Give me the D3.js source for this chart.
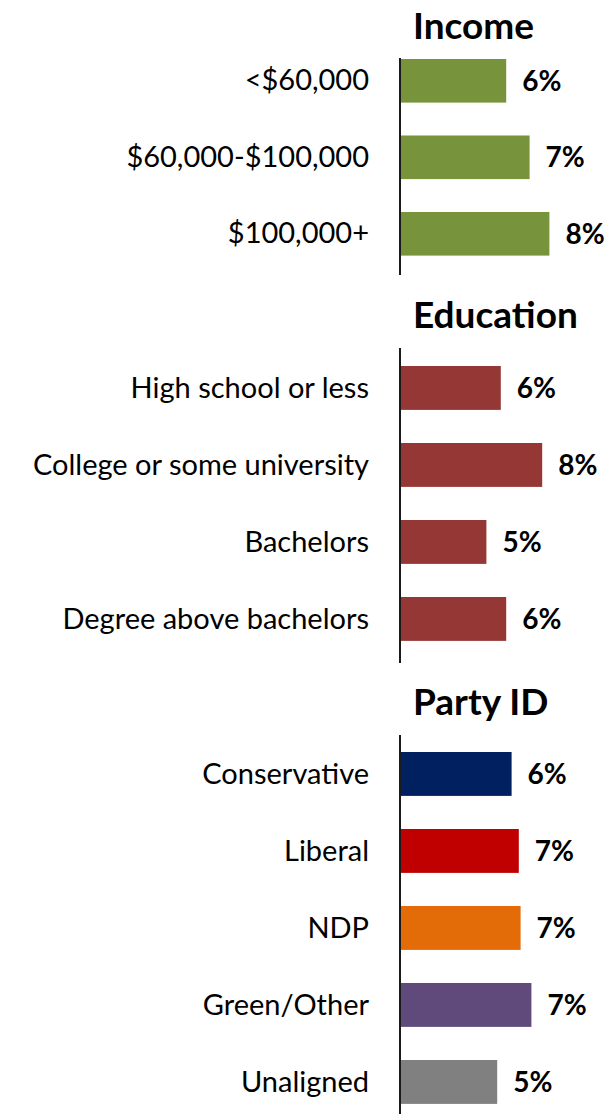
<!DOCTYPE html>
<html><head><meta charset="utf-8">
<script src="https://cdn.jsdelivr.net/npm/d3@7"></script>
<style>body{margin:0;background:#fff;} svg{display:block;} text{font-family:Lato, "Open Sans", sans-serif;}</style>
</head><body>
<svg id="c" width="608" height="1114"></svg>
<script>
// Data
const incomeCats = ["<$60,000", "$60,000-$100,000", "$100,000+"];
const incomeVals = [5.9, 7.2, 8.3];
const incomeLabels = ["6%", "7%", "8%"];
const eduCats = ["High school or less", "College or some university", "Bachelors", "Degree above bachelors"];
const eduVals = [5.6, 7.9, 4.8, 5.9];
const eduLabels = ["6%", "8%", "5%", "6%"];
const partyCats = ["Conservative", "Liberal", "NDP", "Green/Other", "Unaligned"];
const partyVals = [6.2, 6.6, 6.7, 7.3, 5.4];
const partyLabels = ["6%", "7%", "7%", "7%", "5%"];
const titles = ["Income", "Education", "Party ID"];

const incomeColors = ["#77933C", "#77933C", "#77933C"];
const eduColors = ["#953735", "#953735", "#953735", "#953735"];
const partyColors = ["#002060", "#C00000", "#E36C09", "#604A7B", "#808080"];

const svg = d3.select("#c");
const x = d3.scaleLinear().domain([0, 10]).range([400, 580]);

const panels = [
  {title: titles[0], cats: incomeCats, vals: incomeVals, labels: incomeLabels, colors: incomeColors, titleY: 39, axis: [58, 275], barTop: 59, step: 76.5},
  {title: titles[1], cats: eduCats, vals: eduVals, labels: eduLabels, colors: eduColors, titleY: 328, axis: [348, 663], barTop: 366, step: 77},
  {title: titles[2], cats: partyCats, vals: partyVals, labels: partyLabels, colors: partyColors, titleY: 715, axis: [735, 1114], barTop: 752, step: 77}
];
const pin = 0.43;

panels.forEach(p => {
  const n = p.cats.length;
  const y = d3.scaleBand().domain(p.cats).range([p.barTop, p.barTop + p.step * (n - pin)]).paddingInner(pin).paddingOuter(0);
  const g = svg.append("g");
  g.append("text").attr("x", 413).attr("y", p.titleY).attr("font-size", 37).attr("font-weight", "bold").attr("fill", "#000").text(p.title);
  g.selectAll("rect").data(p.cats).join("rect")
    .attr("x", x(0)).attr("y", d => y(d)).attr("height", y.bandwidth())
    .attr("width", (d, i) => x(p.vals[i]) - x(0)).attr("fill", (d, i) => p.colors[i]);
  g.selectAll("text.cat").data(p.cats).join("text").attr("class", "cat")
    .attr("x", 369).attr("y", d => y(d) + y.bandwidth() / 2).attr("dy", "0.33em")
    .attr("text-anchor", "end").attr("font-size", 29).attr("fill", "#000").text(d => d);
  g.selectAll("text.val").data(p.cats).join("text").attr("class", "val")
    .attr("x", (d, i) => x(p.vals[i]) + 16).attr("y", d => y(d) + y.bandwidth() / 2).attr("dy", "0.36em")
    .attr("font-size", 28).attr("font-weight", "bold").attr("fill", "#000").text((d, i) => p.labels[i]);
  g.append("line").attr("x1", x(0)).attr("x2", x(0)).attr("y1", p.axis[0]).attr("y2", p.axis[1])
    .attr("stroke", "#1a1a1a").attr("stroke-width", 2);
});
</script>
</body></html>
